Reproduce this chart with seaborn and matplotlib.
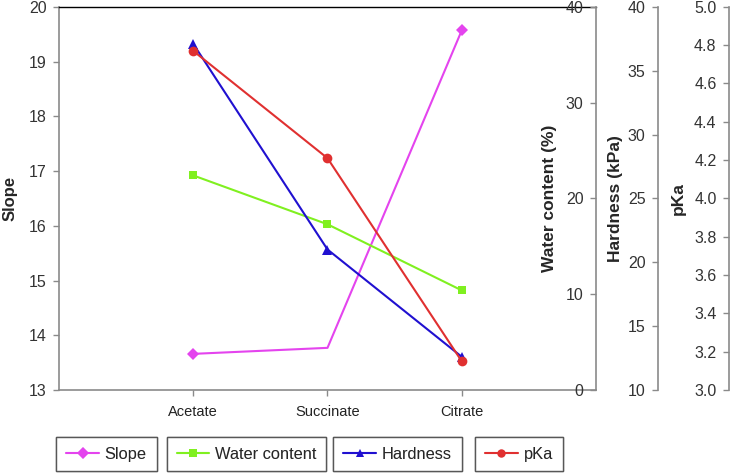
import matplotlib
matplotlib.use('Agg')
import matplotlib.pyplot as plt
from matplotlib.lines import Line2D
import seaborn as sns
import pandas as pd

buffers = ['Acetate', 'Succinate', 'Citrate']
slope = [13.66, 13.77, 19.57]
water_content = [22.4, 17.3, 10.4]
hardness = [37.1, 21.0, 12.6]
pka = [4.77, 4.21, 3.15]

colors = {'Slope': '#e444ee', 'Water content': '#80f020',
          'Hardness': '#2010d0', 'pKa': '#e03030'}
markers = {'Slope': 'D', 'Water content': 's', 'Hardness': '^', 'pKa': 'o'}

sns.set_style('white')
plt.rcParams['font.family'] = ['Liberation Sans', 'DejaVu Sans']

GREY = '#8a8a8a'
fig = plt.figure(figsize=(7.32, 4.73), dpi=100)
ax = fig.add_axes([0.0806, 0.1755, 0.7336, 0.810])

df = pd.DataFrame({'buffer': buffers, 'Slope': slope, 'Water content': water_content,
                   'Hardness': hardness, 'pKa': pka})


def style_axis(a, spine_pos=None):
    for s in a.spines.values():
        s.set_visible(False)
    a.spines['left'].set_visible(True)
    a.spines['left'].set_color(GREY)
    a.spines['left'].set_linewidth(1.2)
    if spine_pos is not None:
        a.spines['left'].set_position(('axes', spine_pos))
    a.yaxis.set_ticks_position('left')
    a.yaxis.set_label_position('left')
    a.tick_params(axis='y', direction='out', length=4, width=1, color=GREY,
                  labelsize=11.5, labelcolor='#333333', pad=5, left=True)


# main axis: Slope
sns.lineplot(data=df, x='buffer', y='Slope', ax=ax, color=colors['Slope'],
             marker=markers['Slope'], markersize=6, linewidth=1.5,
             markeredgewidth=0, markevery=[0, 2], sort=False)
ax.set_xlim(-1, 3)
ax.set_ylim(13, 20)
ax.set_yticks(range(13, 21))
style_axis(ax)
ax.spines['bottom'].set_visible(True)
ax.spines['bottom'].set_color(GREY)
ax.spines['bottom'].set_linewidth(1.2)
ax.spines['top'].set_visible(True)
ax.spines['top'].set_color('black')
ax.spines['top'].set_linewidth(1)
ax.tick_params(axis='x', direction='out', length=4, width=1, color=GREY,
               labelsize=10.5, labelcolor='#222222', bottom=True, pad=7)
ax.set_xlabel('')
ax.set_ylabel('Slope', fontsize=12, fontweight='bold', labelpad=8)

# Water content
ax2 = ax.twinx()
sns.lineplot(data=df, x='buffer', y='Water content', ax=ax2,
             color=colors['Water content'], marker=markers['Water content'],
             markersize=6, linewidth=1.5, markeredgewidth=0, sort=False)
ax2.set_ylim(0, 40)
ax2.set_yticks(range(0, 41, 10))
style_axis(ax2, 1.0)
ax2.set_ylabel('Water content (%)', fontsize=12.5, fontweight='bold', labelpad=6)

# Hardness
ax3 = ax.twinx()
sns.lineplot(data=df, x='buffer', y='Hardness', ax=ax3,
             color=colors['Hardness'], marker=markers['Hardness'],
             markersize=7, linewidth=1.5, markeredgewidth=0, sort=False)
ax3.set_ylim(10, 40)
ax3.set_yticks(range(10, 41, 5))
style_axis(ax3, 1.1155)
ax3.set_ylabel('Hardness (kPa)', fontsize=12.5, fontweight='bold', labelpad=3)

# pKa
ax4 = ax.twinx()
sns.lineplot(data=df, x='buffer', y='pKa', ax=ax4,
             color=colors['pKa'], marker=markers['pKa'],
             markersize=7, linewidth=1.5, markeredgewidth=0, sort=False)
ax4.set_ylim(3.0, 5.0)
ax4.set_yticks([3.0 + 0.2 * i for i in range(11)])
ax4.set_yticklabels([f'{3.0 + 0.2 * i:.1f}' for i in range(11)])
style_axis(ax4, 1.2477)
ax4.set_ylabel('pKa', fontsize=12.5, fontweight='bold', labelpad=6)

for a in (ax2, ax3, ax4):
    a.set_xlim(-1, 3)

# separate legend boxes, centred where the reference has them
boxes = [('Slope', 0.1455), ('Water content', 0.3367), ('Hardness', 0.543), ('pKa', 0.709)]
for name, xpos in boxes:
    h = Line2D([], [], color=colors[name], marker=markers[name], markersize=6,
               markeredgewidth=0, linewidth=1.5)
    leg = fig.legend(handles=[h], labels=[name], loc='lower center',
                     bbox_to_anchor=(xpos, 0.0), frameon=True, fancybox=False,
                     fontsize=11.8, handlelength=2.0, handletextpad=0.35,
                     borderpad=0.6, borderaxespad=0.1)
    leg.get_frame().set_edgecolor('#444444')
    leg.get_frame().set_linewidth(1)
    fig.add_artist(leg)

fig.savefig('out.png', dpi=100)
